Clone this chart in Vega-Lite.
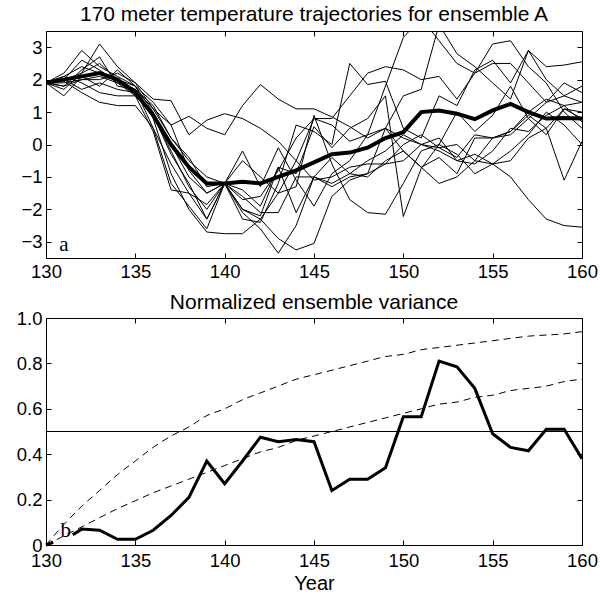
{
  "$schema": "https://vega.github.io/schema/vega-lite/v6.json",
  "background": "white",
  "padding": {"left": 15, "top": 3, "right": 5, "bottom": 0},
  "spacing": 10,
  "config": {
    "font": "Liberation Sans",
    "view": {"stroke": "black", "strokeWidth": 1},
    "axis": {
      "grid": false, "domain": false, "tickColor": "black", "tickSize": -5, "tickWidth": 1,
      "labelColor": "black", "labelFont": "Liberation Sans", "labelFontSize": 18.5,
      "labelPadding": 9, "labelFlush": false, "labelOverlap": false,
      "titleFont": "Liberation Sans", "titleFontSize": 20, "titleFontWeight": "normal", "titleColor": "black"
    },
    "title": {"font": "Liberation Sans", "fontSize": 21, "fontWeight": "normal", "color": "black"}
  },
  "datasets": {
    "ens": [
      {"m":1,"x":130,"v":1.9},{"m":1,"x":131,"v":2.1},{"m":1,"x":132,"v":2.4},{"m":1,"x":133,"v":2.2},{"m":1,"x":134,"v":2.0},{"m":1,"x":135,"v":1.7},{"m":1,"x":136,"v":0.5},{"m":1,"x":137,"v":-0.6},{"m":1,"x":138,"v":-1.5},{"m":1,"x":139,"v":-2.3},{"m":1,"x":140,"v":-1.2},{"m":1,"x":141,"v":-2.0},{"m":1,"x":142,"v":-2.3},{"m":1,"x":143,"v":-1.5},{"m":1,"x":144,"v":-0.5},{"m":1,"x":145,"v":0.8},{"m":1,"x":146,"v":0.6},{"m":1,"x":147,"v":0.1},{"m":1,"x":148,"v":0.3},{"m":1,"x":149,"v":0.5},{"m":1,"x":150,"v":0.2},{"m":1,"x":151,"v":0.0},{"m":1,"x":152,"v":-0.2},{"m":1,"x":153,"v":-0.5},{"m":1,"x":154,"v":-0.3},{"m":1,"x":155,"v":-0.6},{"m":1,"x":156,"v":-1.0},{"m":1,"x":157,"v":-1.7},{"m":1,"x":158,"v":-2.3},{"m":1,"x":159,"v":-2.5},{"m":1,"x":160,"v":-2.55},
      {"m":2,"x":130,"v":1.9},{"m":2,"x":131,"v":1.7},{"m":2,"x":132,"v":2.2},{"m":2,"x":133,"v":2.5},{"m":2,"x":134,"v":2.0},{"m":2,"x":135,"v":1.8},{"m":2,"x":136,"v":1.3},{"m":2,"x":137,"v":0.6},{"m":2,"x":138,"v":0.87},{"m":2,"x":139,"v":0.5},{"m":2,"x":140,"v":0.3},{"m":2,"x":141,"v":1.2},{"m":2,"x":142,"v":1.85},{"m":2,"x":143,"v":1.4},{"m":2,"x":144,"v":1.1},{"m":2,"x":145,"v":1.1},{"m":2,"x":146,"v":0.85},{"m":2,"x":147,"v":0.55},{"m":2,"x":148,"v":0.2},{"m":2,"x":149,"v":0.5},{"m":2,"x":150,"v":-0.2},{"m":2,"x":151,"v":-0.7},{"m":2,"x":152,"v":-0.4},{"m":2,"x":153,"v":-0.9},{"m":2,"x":154,"v":0.2},{"m":2,"x":155,"v":0.2},{"m":2,"x":156,"v":0.3},{"m":2,"x":157,"v":0.8},{"m":2,"x":158,"v":1.3},{"m":2,"x":159,"v":1.9},{"m":2,"x":160,"v":1.6},
      {"m":3,"x":130,"v":1.9},{"m":3,"x":131,"v":2.0},{"m":3,"x":132,"v":2.6},{"m":3,"x":133,"v":2.3},{"m":3,"x":134,"v":1.9},{"m":3,"x":135,"v":1.5},{"m":3,"x":136,"v":0.9},{"m":3,"x":137,"v":-0.3},{"m":3,"x":138,"v":-1.2},{"m":3,"x":139,"v":-2.3},{"m":3,"x":140,"v":-1.2},{"m":3,"x":141,"v":-2.1},{"m":3,"x":142,"v":-2.6},{"m":3,"x":143,"v":-3.35},{"m":3,"x":144,"v":-2.5},{"m":3,"x":145,"v":-1.0},{"m":3,"x":146,"v":-1.2},{"m":3,"x":147,"v":-0.9},{"m":3,"x":148,"v":-0.5},{"m":3,"x":149,"v":-0.2},{"m":3,"x":150,"v":0.3},{"m":3,"x":151,"v":0.0},{"m":3,"x":152,"v":-0.1},{"m":3,"x":153,"v":0.0},{"m":3,"x":154,"v":-0.5},{"m":3,"x":155,"v":0.2},{"m":3,"x":156,"v":0.4},{"m":3,"x":157,"v":0.9},{"m":3,"x":158,"v":0.5},{"m":3,"x":159,"v":1.1},{"m":3,"x":160,"v":0.8},
      {"m":4,"x":130,"v":1.9},{"m":4,"x":131,"v":2.2},{"m":4,"x":132,"v":2.9},{"m":4,"x":133,"v":2.4},{"m":4,"x":134,"v":2.1},{"m":4,"x":135,"v":1.8},{"m":4,"x":136,"v":0.8},{"m":4,"x":137,"v":-0.9},{"m":4,"x":138,"v":-2.0},{"m":4,"x":139,"v":-2.7},{"m":4,"x":140,"v":-2.75},{"m":4,"x":141,"v":-2.75},{"m":4,"x":142,"v":-2.3},{"m":4,"x":143,"v":-2.9},{"m":4,"x":144,"v":-3.25},{"m":4,"x":145,"v":-3.05},{"m":4,"x":146,"v":-1.6},{"m":4,"x":147,"v":-1.1},{"m":4,"x":148,"v":-0.9},{"m":4,"x":149,"v":-0.6},{"m":4,"x":150,"v":-0.5},{"m":4,"x":151,"v":0.0},{"m":4,"x":152,"v":0.2},{"m":4,"x":153,"v":-0.5},{"m":4,"x":154,"v":-0.6},{"m":4,"x":155,"v":-0.2},{"m":4,"x":156,"v":0.5},{"m":4,"x":157,"v":0.4},{"m":4,"x":158,"v":0.9},{"m":4,"x":159,"v":1.2},{"m":4,"x":160,"v":1.3},
      {"m":5,"x":130,"v":1.9},{"m":5,"x":131,"v":2.0},{"m":5,"x":132,"v":2.2},{"m":5,"x":133,"v":3.1},{"m":5,"x":134,"v":2.4},{"m":5,"x":135,"v":1.9},{"m":5,"x":136,"v":1.1},{"m":5,"x":137,"v":0.2},{"m":5,"x":138,"v":-0.4},{"m":5,"x":139,"v":-1.3},{"m":5,"x":140,"v":-1.2},{"m":5,"x":141,"v":-0.2},{"m":5,"x":142,"v":-1.3},{"m":5,"x":143,"v":-0.1},{"m":5,"x":144,"v":-1.1},{"m":5,"x":145,"v":-1.9},{"m":5,"x":146,"v":-0.9},{"m":5,"x":147,"v":-0.5},{"m":5,"x":148,"v":0.3},{"m":5,"x":149,"v":1.8},{"m":5,"x":150,"v":3.3},{"m":5,"x":151,"v":3.9},{"m":5,"x":152,"v":3.2},{"m":5,"x":153,"v":2.5},{"m":5,"x":154,"v":2.2},{"m":5,"x":155,"v":3.1},{"m":5,"x":156,"v":3.2},{"m":5,"x":157,"v":2.4},{"m":5,"x":158,"v":1.9},{"m":5,"x":159,"v":1.0},{"m":5,"x":160,"v":0.5},
      {"m":6,"x":130,"v":1.9},{"m":6,"x":131,"v":1.8},{"m":6,"x":132,"v":2.0},{"m":6,"x":133,"v":2.1},{"m":6,"x":134,"v":1.9},{"m":6,"x":135,"v":1.7},{"m":6,"x":136,"v":1.1},{"m":6,"x":137,"v":0.6},{"m":6,"x":138,"v":-0.8},{"m":6,"x":139,"v":-1.5},{"m":6,"x":140,"v":-1.2},{"m":6,"x":141,"v":-2.3},{"m":6,"x":142,"v":-2.4},{"m":6,"x":143,"v":-1.2},{"m":6,"x":144,"v":0.6},{"m":6,"x":145,"v":0.4},{"m":6,"x":146,"v":0.0},{"m":6,"x":147,"v":2.5},{"m":6,"x":148,"v":1.85},{"m":6,"x":149,"v":1.95},{"m":6,"x":150,"v":0.5},{"m":6,"x":151,"v":0.2},{"m":6,"x":152,"v":1.5},{"m":6,"x":153,"v":1.2},{"m":6,"x":154,"v":2.3},{"m":6,"x":155,"v":2.6},{"m":6,"x":156,"v":1.9},{"m":6,"x":157,"v":2.9},{"m":6,"x":158,"v":2.0},{"m":6,"x":159,"v":1.5},{"m":6,"x":160,"v":1.8},
      {"m":7,"x":130,"v":1.9},{"m":7,"x":131,"v":1.9},{"m":7,"x":132,"v":2.0},{"m":7,"x":133,"v":2.0},{"m":7,"x":134,"v":2.2},{"m":7,"x":135,"v":1.9},{"m":7,"x":136,"v":1.4},{"m":7,"x":137,"v":1.35},{"m":7,"x":138,"v":0.3},{"m":7,"x":139,"v":0.75},{"m":7,"x":140,"v":0.95},{"m":7,"x":141,"v":0.8},{"m":7,"x":142,"v":0.5},{"m":7,"x":143,"v":0.1},{"m":7,"x":144,"v":-0.5},{"m":7,"x":145,"v":-1.1},{"m":7,"x":146,"v":-1.0},{"m":7,"x":147,"v":-0.7},{"m":7,"x":148,"v":-0.6},{"m":7,"x":149,"v":-0.6},{"m":7,"x":150,"v":0.0},{"m":7,"x":151,"v":0.3},{"m":7,"x":152,"v":-0.1},{"m":7,"x":153,"v":-0.4},{"m":7,"x":154,"v":0.3},{"m":7,"x":155,"v":0.2},{"m":7,"x":156,"v":0.4},{"m":7,"x":157,"v":1.0},{"m":7,"x":158,"v":1.4},{"m":7,"x":159,"v":1.2},{"m":7,"x":160,"v":0.7},
      {"m":8,"x":130,"v":1.9},{"m":8,"x":131,"v":2.0},{"m":8,"x":132,"v":1.7},{"m":8,"x":133,"v":1.9},{"m":8,"x":134,"v":1.7},{"m":8,"x":135,"v":1.6},{"m":8,"x":136,"v":0.9},{"m":8,"x":137,"v":-0.2},{"m":8,"x":138,"v":-1.3},{"m":8,"x":139,"v":-2.0},{"m":8,"x":140,"v":-1.2},{"m":8,"x":141,"v":-1.7},{"m":8,"x":142,"v":-1.6},{"m":8,"x":143,"v":-0.8},{"m":8,"x":144,"v":0.2},{"m":8,"x":145,"v":0.8},{"m":8,"x":146,"v":0.8},{"m":8,"x":147,"v":1.5},{"m":8,"x":148,"v":2.2},{"m":8,"x":149,"v":2.4},{"m":8,"x":150,"v":2.3},{"m":8,"x":151,"v":2.0},{"m":8,"x":152,"v":2.1},{"m":8,"x":153,"v":1.4},{"m":8,"x":154,"v":2.2},{"m":8,"x":155,"v":2.5},{"m":8,"x":156,"v":2.5},{"m":8,"x":157,"v":1.9},{"m":8,"x":158,"v":1.3},{"m":8,"x":159,"v":1.5},{"m":8,"x":160,"v":1.3},
      {"m":9,"x":130,"v":1.9},{"m":9,"x":131,"v":2.1},{"m":9,"x":132,"v":1.9},{"m":9,"x":133,"v":1.6},{"m":9,"x":134,"v":1.5},{"m":9,"x":135,"v":1.5},{"m":9,"x":136,"v":0.4},{"m":9,"x":137,"v":-1.4},{"m":9,"x":138,"v":-1.5},{"m":9,"x":139,"v":-1.85},{"m":9,"x":140,"v":-1.2},{"m":9,"x":141,"v":-1.6},{"m":9,"x":142,"v":-2.1},{"m":9,"x":143,"v":-2.1},{"m":9,"x":144,"v":-1.0},{"m":9,"x":145,"v":-1.0},{"m":9,"x":146,"v":-1.3},{"m":9,"x":147,"v":-1.0},{"m":9,"x":148,"v":-0.9},{"m":9,"x":149,"v":0.5},{"m":9,"x":150,"v":1.5},{"m":9,"x":151,"v":1.7},{"m":9,"x":152,"v":3.7},{"m":9,"x":153,"v":2.8},{"m":9,"x":154,"v":2.4},{"m":9,"x":155,"v":1.9},{"m":9,"x":156,"v":1.4},{"m":9,"x":157,"v":2.9},{"m":9,"x":158,"v":2.4},{"m":9,"x":159,"v":2.45},{"m":9,"x":160,"v":2.55},
      {"m":10,"x":130,"v":1.9},{"m":10,"x":131,"v":1.95},{"m":10,"x":132,"v":1.6},{"m":10,"x":133,"v":1.3},{"m":10,"x":134,"v":1.2},{"m":10,"x":135,"v":1.2},{"m":10,"x":136,"v":0.5},{"m":10,"x":137,"v":-1.2},{"m":10,"x":138,"v":-1.9},{"m":10,"x":139,"v":-2.6},{"m":10,"x":140,"v":-1.2},{"m":10,"x":141,"v":-0.5},{"m":10,"x":142,"v":-1.0},{"m":10,"x":143,"v":-1.5},{"m":10,"x":144,"v":-1.3},{"m":10,"x":145,"v":0.9},{"m":10,"x":146,"v":-0.6},{"m":10,"x":147,"v":-1.7},{"m":10,"x":148,"v":-2.1},{"m":10,"x":149,"v":-2.15},{"m":10,"x":150,"v":-1.2},{"m":10,"x":151,"v":-0.2},{"m":10,"x":152,"v":0.0},{"m":10,"x":153,"v":-0.3},{"m":10,"x":154,"v":-0.9},{"m":10,"x":155,"v":-0.6},{"m":10,"x":156,"v":-0.5},{"m":10,"x":157,"v":0.2},{"m":10,"x":158,"v":0.5},{"m":10,"x":159,"v":-1.1},{"m":10,"x":160,"v":0.1},
      {"m":11,"x":130,"v":1.9},{"m":11,"x":131,"v":1.8},{"m":11,"x":132,"v":2.3},{"m":11,"x":133,"v":2.7},{"m":11,"x":134,"v":1.8},{"m":11,"x":135,"v":1.7},{"m":11,"x":136,"v":1.2},{"m":11,"x":137,"v":0.2},{"m":11,"x":138,"v":-0.5},{"m":11,"x":139,"v":-1.0},{"m":11,"x":140,"v":-1.2},{"m":11,"x":141,"v":-1.4},{"m":11,"x":142,"v":-1.9},{"m":11,"x":143,"v":-0.7},{"m":11,"x":144,"v":-0.9},{"m":11,"x":145,"v":0.55},{"m":11,"x":146,"v":-0.1},{"m":11,"x":147,"v":0.5},{"m":11,"x":148,"v":0.8},{"m":11,"x":149,"v":1.5},{"m":11,"x":150,"v":-2.22},{"m":11,"x":151,"v":-0.74},{"m":11,"x":152,"v":0.0},{"m":11,"x":153,"v":1.0},{"m":11,"x":154,"v":0.4},{"m":11,"x":155,"v":0.9},{"m":11,"x":156,"v":1.8},{"m":11,"x":157,"v":0.8},{"m":11,"x":158,"v":0.3},{"m":11,"x":159,"v":1.1},{"m":11,"x":160,"v":1.0},
      {"m":12,"x":130,"v":1.9},{"m":12,"x":131,"v":1.5},{"m":12,"x":132,"v":2.1},{"m":12,"x":133,"v":1.8},{"m":12,"x":134,"v":2.3},{"m":12,"x":135,"v":1.8},{"m":12,"x":136,"v":1.0},{"m":12,"x":137,"v":0.0},{"m":12,"x":138,"v":-1.0},{"m":12,"x":139,"v":-1.5},{"m":12,"x":140,"v":-1.2},{"m":12,"x":141,"v":-2.0},{"m":12,"x":142,"v":-2.2},{"m":12,"x":143,"v":-0.7},{"m":12,"x":144,"v":-2.1},{"m":12,"x":145,"v":-1.0},{"m":12,"x":146,"v":-0.4},{"m":12,"x":147,"v":-0.9},{"m":12,"x":148,"v":-1.0},{"m":12,"x":149,"v":-0.5},{"m":12,"x":150,"v":-0.2},{"m":12,"x":151,"v":-0.7},{"m":12,"x":152,"v":-1.2},{"m":12,"x":153,"v":-1.0},{"m":12,"x":154,"v":-0.5},{"m":12,"x":155,"v":-0.6},{"m":12,"x":156,"v":-0.2},{"m":12,"x":157,"v":0.3},{"m":12,"x":158,"v":1.0},{"m":12,"x":159,"v":0.6},{"m":12,"x":160,"v":0.0}
    ],
    "mean": [
      {"x":130,"v":1.9},{"x":131,"v":2.0},{"x":132,"v":2.1},{"x":133,"v":2.2},{"x":134,"v":2.0},{"x":135,"v":1.6},{"x":136,"v":0.9},{"x":137,"v":0.0},{"x":138,"v":-0.7},{"x":139,"v":-1.2},{"x":140,"v":-1.2},{"x":141,"v":-1.15},{"x":142,"v":-1.2},{"x":143,"v":-1.0},{"x":144,"v":-0.8},{"x":145,"v":-0.55},{"x":146,"v":-0.3},{"x":147,"v":-0.25},{"x":148,"v":-0.1},{"x":149,"v":0.2},{"x":150,"v":0.38},{"x":151,"v":1.0},{"x":152,"v":1.05},{"x":153,"v":0.95},{"x":154,"v":0.78},{"x":155,"v":1.05},{"x":156,"v":1.25},{"x":157,"v":1.0},{"x":158,"v":0.8},{"x":159,"v":0.82},{"x":160,"v":0.8}
    ],
    "variance": [
      {"s":"a","x":130,"v":0.0},{"s":"a","x":130.4,"v":0.012},
      {"s":"b","x":131.5,"v":0.045},{"s":"b","x":132,"v":0.07},{"s":"b","x":133,"v":0.065},{"s":"b","x":134,"v":0.025},{"s":"b","x":135,"v":0.025},{"s":"b","x":136,"v":0.065},{"s":"b","x":137,"v":0.13},{"s":"b","x":138,"v":0.21},{"s":"b","x":139,"v":0.37},{"s":"b","x":140,"v":0.27},{"s":"b","x":141,"v":0.37},{"s":"b","x":142,"v":0.475},{"s":"b","x":143,"v":0.455},{"s":"b","x":144,"v":0.465},{"s":"b","x":145,"v":0.455},{"s":"b","x":146,"v":0.24},{"s":"b","x":147,"v":0.29},{"s":"b","x":148,"v":0.29},{"s":"b","x":149,"v":0.34},{"s":"b","x":150,"v":0.565},{"s":"b","x":151,"v":0.565},{"s":"b","x":152,"v":0.81},{"s":"b","x":153,"v":0.785},{"s":"b","x":154,"v":0.69},{"s":"b","x":155,"v":0.49},{"s":"b","x":156,"v":0.43},{"s":"b","x":157,"v":0.415},{"s":"b","x":158,"v":0.51},{"s":"b","x":159,"v":0.51},{"s":"b","x":160,"v":0.38}
    ],
    "curves": [
      {"c":"fast","x":130,"v":0},{"c":"fast","x":131,"v":0.09},{"c":"fast","x":132,"v":0.17},{"c":"fast","x":133,"v":0.24},{"c":"fast","x":134,"v":0.31},{"c":"fast","x":135,"v":0.37},{"c":"fast","x":136,"v":0.43},{"c":"fast","x":137,"v":0.48},{"c":"fast","x":138,"v":0.52},{"c":"fast","x":139,"v":0.57},{"c":"fast","x":140,"v":0.6},{"c":"fast","x":141,"v":0.64},{"c":"fast","x":142,"v":0.67},{"c":"fast","x":143,"v":0.7},{"c":"fast","x":144,"v":0.73},{"c":"fast","x":145,"v":0.75},{"c":"fast","x":146,"v":0.77},{"c":"fast","x":147,"v":0.79},{"c":"fast","x":148,"v":0.81},{"c":"fast","x":149,"v":0.83},{"c":"fast","x":150,"v":0.84},{"c":"fast","x":151,"v":0.86},{"c":"fast","x":152,"v":0.87},{"c":"fast","x":153,"v":0.88},{"c":"fast","x":154,"v":0.89},{"c":"fast","x":155,"v":0.9},{"c":"fast","x":156,"v":0.91},{"c":"fast","x":157,"v":0.92},{"c":"fast","x":158,"v":0.925},{"c":"fast","x":159,"v":0.93},{"c":"fast","x":160,"v":0.94},
      {"c":"slow","x":130,"v":0},{"c":"slow","x":131,"v":0.04},{"c":"slow","x":132,"v":0.08},{"c":"slow","x":133,"v":0.12},{"c":"slow","x":134,"v":0.16},{"c":"slow","x":135,"v":0.195},{"c":"slow","x":136,"v":0.23},{"c":"slow","x":137,"v":0.26},{"c":"slow","x":138,"v":0.29},{"c":"slow","x":139,"v":0.32},{"c":"slow","x":140,"v":0.35},{"c":"slow","x":141,"v":0.38},{"c":"slow","x":142,"v":0.41},{"c":"slow","x":143,"v":0.43},{"c":"slow","x":144,"v":0.46},{"c":"slow","x":145,"v":0.48},{"c":"slow","x":146,"v":0.5},{"c":"slow","x":147,"v":0.52},{"c":"slow","x":148,"v":0.54},{"c":"slow","x":149,"v":0.56},{"c":"slow","x":150,"v":0.58},{"c":"slow","x":151,"v":0.6},{"c":"slow","x":152,"v":0.62},{"c":"slow","x":153,"v":0.63},{"c":"slow","x":154,"v":0.65},{"c":"slow","x":155,"v":0.66},{"c":"slow","x":156,"v":0.68},{"c":"slow","x":157,"v":0.69},{"c":"slow","x":158,"v":0.7},{"c":"slow","x":159,"v":0.72},{"c":"slow","x":160,"v":0.73}
    ],
    "refline": [{"v":0.5}],
    "labA": [{"x":131.0,"v":-3.1,"t":"a"}],
    "labB": [{"x":131.1,"v":0.06,"t":"b"}]
  },
  "vconcat": [
    {
      "width": 536, "height": 227,
      "title": {"text": "170 meter temperature trajectories for ensemble A", "offset": 6},
      "resolve": {"axis": {"x": "independent", "y": "independent"}},
      "layer": [
        {
          "data": {"name": "ens"},
          "mark": {"type": "line", "color": "black", "strokeWidth": 1, "clip": true},
          "encoding": {
            "x": {"field": "x", "type": "quantitative", "scale": {"domain": [130, 160], "nice": false, "zero": false},
                  "axis": {"values": [130, 135, 140, 145, 150, 155, 160], "title": null}},
            "y": {"field": "v", "type": "quantitative", "scale": {"domain": [-3.5, 3.5], "nice": false, "zero": false},
                  "axis": {"values": [-3, -2, -1, 0, 1, 2, 3], "title": null}},
            "detail": {"field": "m", "type": "nominal"}
          }
        },
        {
          "data": {"name": "mean"},
          "mark": {"type": "line", "color": "black", "strokeWidth": 4, "clip": true},
          "encoding": {
            "x": {"field": "x", "type": "quantitative", "axis": {"orient": "top", "labels": false, "values": [130, 135, 140, 145, 150, 155, 160], "title": null}},
            "y": {"field": "v", "type": "quantitative", "axis": {"orient": "right", "labels": false, "values": [-3, -2, -1, 0, 1, 2, 3], "title": null}}
          }
        },
        {
          "data": {"name": "labA"},
          "mark": {"type": "text", "font": "Liberation Serif", "fontSize": 21, "color": "black", "align": "center", "baseline": "middle"},
          "encoding": {
            "x": {"field": "x", "type": "quantitative", "axis": null},
            "y": {"field": "v", "type": "quantitative", "axis": null},
            "text": {"field": "t"}
          }
        }
      ]
    },
    {
      "width": 536, "height": 227,
      "title": {"text": "Normalized ensemble variance", "offset": -4},
      "resolve": {"axis": {"x": "independent", "y": "independent"}},
      "layer": [
        {
          "data": {"name": "refline"},
          "mark": {"type": "rule", "color": "black", "strokeWidth": 1},
          "encoding": {
            "y": {"field": "v", "type": "quantitative", "scale": {"domain": [0, 1], "nice": false},
                  "axis": {"values": [0, 0.2, 0.4, 0.6, 0.8, 1.0], "title": null, "labelExpr": "datum.value == 0 ? '0' : format(datum.value, '.1f')"}}
          }
        },
        {
          "data": {"name": "curves"},
          "mark": {"type": "line", "color": "black", "strokeWidth": 1, "strokeDash": [7, 5], "interpolate": "monotone"},
          "encoding": {
            "x": {"field": "x", "type": "quantitative", "scale": {"domain": [130, 160], "nice": false, "zero": false},
                  "axis": {"values": [130, 135, 140, 145, 150, 155, 160], "title": "Year", "titlePadding": 4, "labelPadding": 11}},
            "y": {"field": "v", "type": "quantitative", "axis": {"orient": "right", "labels": false, "values": [0, 0.2, 0.4, 0.6, 0.8, 1.0], "title": null}},
            "detail": {"field": "c", "type": "nominal"}
          }
        },
        {
          "data": {"name": "variance"},
          "mark": {"type": "line", "color": "black", "strokeWidth": 3},
          "encoding": {
            "x": {"field": "x", "type": "quantitative", "axis": {"orient": "top", "labels": false, "values": [130, 135, 140, 145, 150, 155, 160], "title": null}},
            "y": {"field": "v", "type": "quantitative", "axis": null},
            "detail": {"field": "s", "type": "nominal"}
          }
        },
        {
          "data": {"name": "labB"},
          "mark": {"type": "text", "font": "Liberation Serif", "fontSize": 21, "color": "black", "align": "center", "baseline": "middle"},
          "encoding": {
            "x": {"field": "x", "type": "quantitative", "axis": null},
            "y": {"field": "v", "type": "quantitative", "axis": null},
            "text": {"field": "t"}
          }
        }
      ]
    }
  ]
}
